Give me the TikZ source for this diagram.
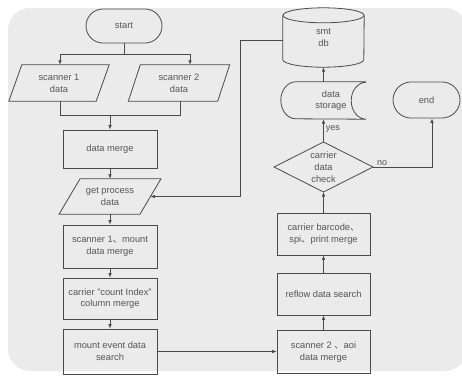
\documentclass[tikz,border=0pt]{standalone}
\usepackage{fontspec}
\setmainfont{Liberation Sans}
\newfontfamily\cjk{Noto Sans CJK SC}
\usetikzlibrary{calc,arrows.meta}
\definecolor{bggray}{HTML}{EBEBEB}
\definecolor{linegray}{HTML}{4A4A4A}
\definecolor{txtgray}{HTML}{555555}
\newcommand{\dun}{{\cjk 、}}
\begin{document}
\begin{tikzpicture}[x=1pt,y=-1pt,
  every node/.style={font=\fontsize{9.3}{11.7}\selectfont, text=txtgray, align=center, inner sep=0pt},
  box/.style={draw=linegray, line width=0.8pt, rectangle, minimum width=94},
  term/.style={draw=linegray, line width=0.8pt, rectangle, rounded corners=17},
  bare/.style={rectangle, draw=none},
  outline/.style={draw=linegray, line width=0.8pt, line join=miter},
  flow/.style={draw=linegray, line width=0.8pt},
  arr/.style={flow, -{Latex[length=4.5pt,width=3.6pt]}},
  tag/.style={font=\fontsize{9}{11}\selectfont}
]
\useasboundingbox (0,0) rectangle (462,376);
% panel
\begin{scope}
  \clip (0,0) rectangle (462,376);
  \fill[white] (0,0) rectangle (462,376);
  \fill[bggray, rounded corners=22] (8,8) rectangle (467,371);
\end{scope}

% left column
\node[term, minimum width=76, minimum height=34] (start) at (124,26) {start};

\node[bare, minimum width=87, minimum height=36] (s1) at (59,83) {scanner 1\\data};
\draw[outline] ($(s1.south west)+(-6.5,0)$) -- ($(s1.south east)+(-6.5,0)$)
  -- ($(s1.north east)+(6.5,0)$) -- ($(s1.north west)+(6.5,0)$) -- cycle;

\node[bare, minimum width=89, minimum height=36] (s2) at (179,83) {scanner 2\\data};
\draw[outline] ($(s2.south west)+(-6,0)$) -- ($(s2.south east)+(-6,0)$)
  -- ($(s2.north east)+(6,0)$) -- ($(s2.north west)+(6,0)$) -- cycle;

\node[box, minimum height=38] (dm) at (110,149) {data merge};

\node[bare, minimum width=80.5, minimum height=35] (gp) at (110,196.5) {get process\\data};
\draw[outline] ($(gp.south west)+(-10.5,0)$) -- ($(gp.south east)+(-10.5,0)$)
  -- ($(gp.north east)+(10.5,0)$) -- ($(gp.north west)+(10.5,0)$) -- cycle;

\node[box, minimum height=43] (sm) at (110,246.5) {scanner 1\dun mount\\data merge};
\node[box, minimum height=41] (cc) at (110,298.5) {carrier "count Index"\\column merge};
\node[box, minimum height=45] (me) at (110,351.5) {mount event data\\search};

% right column
\node[box, minimum width=93, minimum height=43] (sa) at (323.5,352) {scanner 2 \dun aoi\\data merge};
\node[box, minimum width=93, minimum height=42] (rf) at (323.5,294) {reflow data search};
\node[box, minimum width=93, minimum height=42] (bc) at (323.5,234) {carrier barcode\dun\\spi\dun print merge};

\node[bare] (chk) at (323.5,167) {carrier\\data\\check};
\coordinate (chkT) at ($(chk)+(0,-25)$);
\coordinate (chkR) at ($(chk)+(49.5,0)$);
\coordinate (chkB) at ($(chk)+(0,25)$);
\coordinate (chkL) at ($(chk)+(-49.5,0)$);
\draw[outline] (chkT) -- (chkR) -- (chkB) -- (chkL) -- cycle;

\node[bare, minimum width=70, minimum height=37] (ds) at (331,100.5) {data\\storage};
\draw[outline] (ds.north east) -- (ds.north west)
  arc[start angle=270, end angle=90, x radius=15, y radius=18.5]
  -- (ds.south east)
  arc[start angle=90, end angle=270, x radius=15, y radius=18.5];

\node[bare, minimum width=81, minimum height=59] (db) at (323.5,37.5) {smt\\db};
\draw[outline] ($(db.north)+(0,7.5)$) ellipse[x radius=40.5, y radius=7.5];
\draw[outline] ($(db.north west)+(0,7.5)$) -- ($(db.south west)+(0,-7.5)$)
  arc[start angle=180, end angle=0, x radius=40.5, y radius=7.5]
  -- ($(db.north east)+(0,7.5)$);

\node[term, minimum width=67, minimum height=36, rounded corners=18] (end) at (426.5,100) {end};

% connectors
\draw[flow] (start.south) -- ++(0,11) coordinate (sp);
\draw[arr] (sp) -| ($(s1.north)+(1,0)$);
\draw[arr] (sp) -| ($(s2.north)+(11,0)$);
\coordinate (mg) at ($(dm.north)+(0,-14)$);
\draw[flow] ($(s1.south)+(1,0)$) |- (mg) -| ($(s2.south)+(1,0)$);
\draw[arr] (mg) -- (dm.north);
\draw[arr] (dm.south) -- (gp.north);
\draw[arr] (gp.south) -- (sm.north);
\draw[arr] (sm.south) -- (cc.north);
\draw[arr] (cc.south) -- (me.north);
\draw[arr] (me.east) -- (me.east -| sa.west);
\draw[arr] (sa.north) -- (rf.south);
\draw[arr] (rf.north) -- (bc.south);
\draw[arr] (bc.north) -- (chkB);
\draw[arr] (chkT) -- (chkT |- ds.south) node[tag, pos=0.55, anchor=west, xshift=2pt] {yes};
\draw[arr] (chkT |- ds.north) -- (chkT |- db.south);
\draw[arr] (chkR) -| ($(end.south)+(5.5,0)$);
\node[tag, anchor=south west] (no) at ($(chkR)+(4,-1)$) {no};
\draw[arr] ($(db.west)+(0,2.5)$) -- ++(-42,0) |- (gp.east);
\end{tikzpicture}
\end{document}
